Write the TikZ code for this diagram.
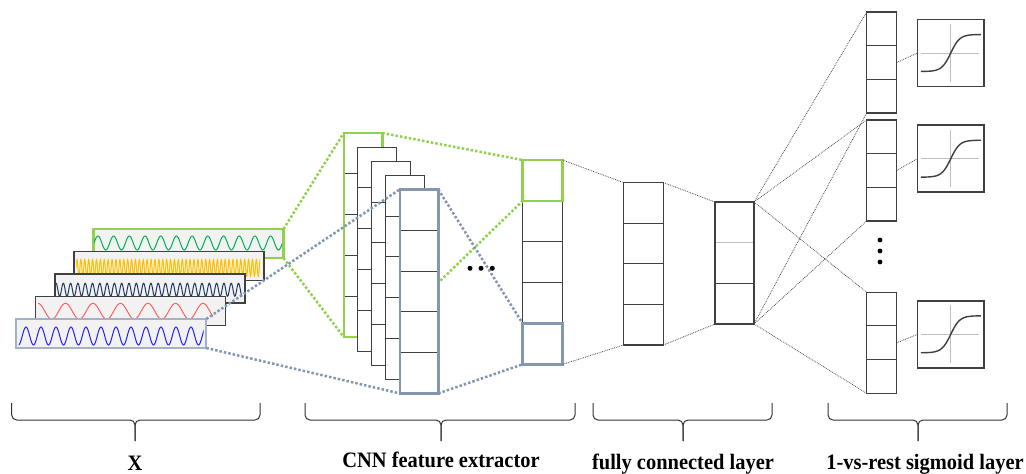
\documentclass[tikz,border=0pt]{standalone}
\usepackage{fontspec}
\setmainfont{Liberation Serif}
\newfontfamily\labfont[FakeStretch=0.93]{Liberation Serif}
\usetikzlibrary{calc}
\definecolor{lgreen}{HTML}{92D050}
\definecolor{bgray}{HTML}{8497B0}
\definecolor{bgrayl}{HTML}{A3B2C7}
\definecolor{dk}{HTML}{404040}
\definecolor{dotc}{HTML}{4A4A4A}
\definecolor{sigfill}{HTML}{F2F2F2}
\definecolor{wgreen}{HTML}{00B050}
\definecolor{wyellow}{HTML}{FFC000}
\definecolor{wnavy}{HTML}{203864}
\definecolor{wred}{HTML}{FF6060}
\definecolor{wblue}{HTML}{2020FF}

\newcommand\mycellsplit[3]{%
  \pgfmathtruncatemacro\lastcut{#2-1}%
  \foreach \i in {1,...,\lastcut}{%
    \draw[#3, line width=1pt] ($(#1.north west)!{\i/#2}!(#1.south west)$) -- ($(#1.north east)!{\i/#2}!(#1.south east)$);
  }}
\newcommand\myframe[3]{\draw[#2, line width=#3] (#1.north west) rectangle (#1.south east);}
\newcommand\mywave[7]{%
  \begin{scope}
    \clip (#1,{#3-#4-3}) rectangle (#2,{#3+#4+3});
    \pgfmathtruncatemacro\nchunk{ceil((#2-#1)/(10*#5))-1}%
    \foreach \k in {0,...,\nchunk}{%
      \draw[wave,#6] plot[domain=0:10*#5, samples=201] ({#1+10*#5*\k+\x},{#3-#4*sin(360*(\x/#5)+#7)});
    }
  \end{scope}}
\newcommand\mysigmoid[1]{%
  \begin{scope}[shift={(#1.center)}]
    \draw[ax] (0,-29) -- (0,28.7);
    \draw[ax] (-29.7,0) -- (28.5,0);
    \draw[sig] plot[domain=-30:30, samples=80] (\x,{-18.5*tanh(\x/9)});
  \end{scope}}

\begin{document}
\begin{tikzpicture}[x=1pt,y=-1pt,
  sigbox/.style={draw=dk, line width=1.5pt, fill=sigfill, minimum width=190pt, minimum height=29pt, inner sep=0pt, outer sep=0pt},
  cellfill/.style={fill=white, draw=none, inner sep=0pt, outer sep=0pt},
  gdot/.style={lgreen, line width=2.5pt, dash pattern=on 2.5pt off 2pt},
  bdot/.style={bgray, line width=2.5pt, dash pattern=on 2.5pt off 2pt},
  fdot/.style={dotc, line width=0.8pt, dash pattern=on 0.8pt off 1pt},
  wave/.style={line width=1pt},
  lab/.style={font=\labfont\bfseries\fontsize{22}{26}\selectfont, inner sep=0pt, anchor=base},
  sbox/.style={draw=dk, line width=1.8pt, fill=white, minimum width=66.5pt, minimum height=67pt, inner sep=0pt, outer sep=0pt},
  ax/.style={draw=black!25, line width=0.9pt},
  sig/.style={draw=dk, line width=1.4pt},
  ddot/.style={fill=black, circle, draw=none, inner sep=0pt, minimum size=4.8pt},
  brc/.style={draw=black!80, line width=1pt, rounded corners=5pt}
]
\useasboundingbox (0,0) rectangle (1026,474);

% ---------- input signals ----------
\node[sigbox, draw=lgreen, line width=2.3pt] (s1) at (188.5,243.5) {};
\mywave{94}{282}{243}{7}{15.7}{wgreen}{0}
\node[sigbox] (s2) at (169.2,266) {};
\mywave{76}{260}{268}{8.5}{3.9}{wyellow}{0}
\node[sigbox] (s3) at (149.9,288.5) {};
\mywave{56}{242}{289.7}{6.5}{7.3}{wnavy}{90}
\node[sigbox] (s4) at (130.6,311) {};
\mywave{38}{213}{311.3}{8}{27.5}{wred}{90}
\node[sigbox, draw=bgrayl, line width=1.8pt] (s5) at (111.3,333.5) {};
\mywave{18.5}{203.5}{336}{9}{15}{wblue}{270}

% ---------- feature column ----------
\node[cellfill, minimum width=40pt, minimum height=204.3pt] (col) at (542.7,262.2) {};
\mycellsplit{col}{5}{dk}
\myframe{col}{dk}{1.3pt}
\node[cellfill, fill=none, minimum width=40pt, minimum height=40.86pt] (cg) at ($(col.north)+(0,20.43)$) {};
\myframe{cg}{lgreen}{2.5pt}
\node[cellfill, fill=none, minimum width=40pt, minimum height=40.86pt] (cb) at ($(col.south)+(0,-20.43)$) {};
\myframe{cb}{bgray}{2.5pt}

% ---------- CNN stacks ----------
\node[cellfill, minimum width=38.5pt, minimum height=204pt] (st1) at (363,235) {};
\mycellsplit{st1}{5}{dk}
\myframe{st1}{lgreen}{2.5pt}
\draw[gdot] (st1.south east) -- (cg.south west);
\node[cellfill, minimum width=38.5pt, minimum height=204pt] (st2) at (377,249.1) {};
\mycellsplit{st2}{5}{dk}
\myframe{st2}{dk}{1pt}
\node[cellfill, minimum width=38.5pt, minimum height=204pt] (st3) at (391,263.2) {};
\mycellsplit{st3}{5}{dk}
\myframe{st3}{dk}{1pt}
\node[cellfill, minimum width=38.5pt, minimum height=204pt] (st4) at (405,277.3) {};
\mycellsplit{st4}{5}{dk}
\myframe{st4}{dk}{1pt}
\node[cellfill, minimum width=38.5pt, minimum height=204pt] (st5) at (419,291.4) {};
\mycellsplit{st5}{5}{dk}
\myframe{st5}{bgray}{2.5pt}

% ---------- coloured receptive-field lines ----------
\draw[gdot] (s1.north east) -- (st1.north west);
\draw[gdot] (s1.south east) -- (st1.south west);
\draw[gdot] (st1.north east) -- (cg.north west);
\draw[bdot] (s5.north east) -- (st5.north west);
\draw[bdot] (s5.south east) -- (st5.south west);
\draw[bdot] (st5.north east) -- (cb.north west);
\draw[bdot] (st5.south east) -- (cb.south west);

\node[ddot, minimum size=5pt] (h1) at (470,268.3) {};
\node[ddot, minimum size=5pt] (h2) at (481,268.3) {};
\node[ddot, minimum size=5pt] (h3) at (492.3,268.3) {};

% ---------- fully connected ----------
\node[cellfill, minimum width=40pt, minimum height=162.5pt] (fc1) at (643.3,263.8) {};
\mycellsplit{fc1}{4}{dk}
\myframe{fc1}{dk}{1.3pt}
\node[cellfill, minimum width=39pt, minimum height=122pt] (fc2) at (734.5,263) {};
\draw[black!25, line width=1pt] ($(fc2.north west)!{1/3}!(fc2.south west)$) -- ($(fc2.north east)!{1/3}!(fc2.south east)$);
\draw[dk, line width=1pt] ($(fc2.north west)!{2/3}!(fc2.south west)$) -- ($(fc2.north east)!{2/3}!(fc2.south east)$);
\myframe{fc2}{dk}{1.3pt}

% ---------- outputs ----------
\node[cellfill, minimum width=30pt, minimum height=101pt] (o1) at (881.7,62.5) {};
\mycellsplit{o1}{3}{dk}
\myframe{o1}{dk}{1.3pt}
\node[cellfill, minimum width=30pt, minimum height=101pt] (o2) at (881.7,170.4) {};
\mycellsplit{o2}{3}{dk}
\myframe{o2}{dk}{1.3pt}
\node[cellfill, minimum width=30pt, minimum height=101pt] (o3) at (881.7,342.8) {};
\mycellsplit{o3}{3}{dk}
\myframe{o3}{dk}{1.3pt}

\node[ddot] (v1) at (880,240) {};
\node[ddot] (v2) at (880,251) {};
\node[ddot] (v3) at (880,262) {};

\node[sbox] (g1) at (950.75,53) {};
\mysigmoid{g1}
\node[sbox] (g2) at (950.75,158.7) {};
\mysigmoid{g2}
\node[sbox] (g3) at (950.75,334.3) {};
\mysigmoid{g3}

% ---------- thin dotted connectors ----------
\draw[fdot] (col.north east) -- (fc1.north west);
\draw[fdot] (col.south east) -- (fc1.south west);
\draw[fdot] (fc1.north east) -- (fc2.north west);
\draw[fdot] (fc1.south east) -- (fc2.south west);
\foreach \o in {o1,o2,o3}{
  \draw[fdot] (fc2.north east) -- (\o.north west);
  \draw[fdot] (fc2.south east) -- (\o.south west);
}
\draw[fdot] (o1.east) -- (g1.west);
\draw[fdot] (o2.east) -- (g2.west);
\draw[fdot] (o3.east) -- (g3.west);

% ---------- braces ----------
\draw[brc] (11.7,403) -- (11.7,420) -- (135,420) -- (135,441);
\draw[brc] (260,403) -- (260,420) -- (135,420) -- (135,441);
\draw[brc] (305,403) -- (305,420) -- (441,420) -- (441,441);
\draw[brc] (575,403) -- (575,420) -- (441,420) -- (441,441);
\draw[brc] (593,403) -- (593,420) -- (683,420) -- (683,441);
\draw[brc] (772,403) -- (772,420) -- (683,420) -- (683,441);
\draw[brc] (828,403) -- (828,420) -- (918,420) -- (918,441);
\draw[brc] (1007,403) -- (1007,420) -- (918,420) -- (918,441);

% ---------- labels ----------
\node[lab] (lx) at (135,470) {X};
\node[lab] (lcnn) at (441,467.5) {CNN feature extractor};
\node[lab] (lfc) at (683,469.5) {fully connected layer};
\node[lab] (lsig) at (925,469.5) {1-vs-rest sigmoid layer};
\end{tikzpicture}
\end{document}
